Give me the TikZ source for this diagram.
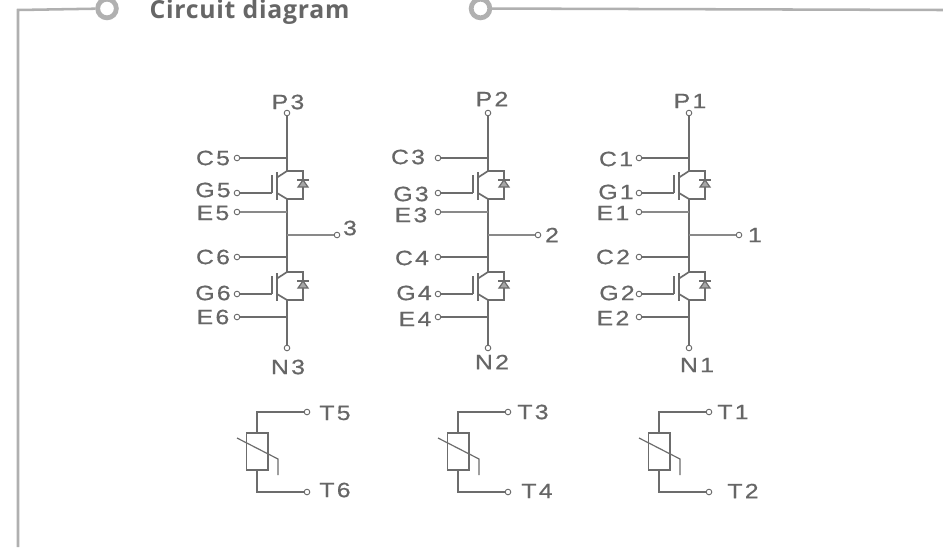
\documentclass[tikz,border=0pt]{standalone}
\usepackage{fontspec}
\setmainfont{Liberation Sans}[FakeStretch=1.2,LetterSpace=11,FakeBold=0.6]
\newfontfamily\headfont{Open Sans}[LetterSpace=3]
\definecolor{wirec}{HTML}{6C6C6C}
\definecolor{framec}{HTML}{B0B0B0}
\definecolor{textc}{HTML}{666666}
\tikzset{
  wire/.style={draw=wirec,line width=1.25pt},
  thinwire/.style={draw=wirec!80,line width=0.85pt},
  term/.style={circle,draw=wirec,fill=white,line width=0.7pt,inner sep=0pt,minimum size=4.2pt},
  lab/.style={text=textc,font=\fontsize{15.5pt}{16pt}\selectfont,inner sep=0pt},
  ring/.style={circle,draw=framec,fill=white,line width=3.6pt,inner sep=0pt,minimum size=14pt},
  frameline/.style={draw=framec,line width=1.9pt},
  rtd/.style={draw=wirec,line width=1.25pt,fill=white,minimum width=16pt,minimum height=27.5pt,inner sep=0pt}
}
% one IGBT with its antiparallel diode: #1 = x of the leg, #2 = y of the top rail
\newcommand{\igbtcell}[2]{%
  \begin{scope}[shift={(#1,#2)}]
    \draw[wire] (0,0) -- (-10,6.5);
    \draw[wire] (-10,22) -- (0,28);
    \draw[wire] (-10,1) -- (-10,29);
    \draw[wire] (-15,4) -- (-15,22);
    \draw[wire] (0,0) -- (16,0) -- (16,28) -- (0,28);
    \draw[draw=wirec,line width=0.9pt,fill=wirec!60] (16,9) -- (11,16) -- (21,16) -- cycle;
    \draw[wire] (10,9) -- (22,9);
  \end{scope}}
\begin{document}
\begin{tikzpicture}[x=0.75pt,y=-0.75pt]
\useasboundingbox (0,0) rectangle (943,547);
\clip (0,0) rectangle (943,547);
\fill[white] (0,0) rectangle (943,547);
% header frame
\coordinate (fa) at (18,547);
\coordinate (fb) at (18,10);
\coordinate (fc) at (943,10);
\node[ring] (ra) at (107,8.5) {};
\node[ring] (rb) at (480.5,8.5) {};
\draw[frameline] (fa) -- (fb) -- (ra);
\draw[frameline] (rb) -- (fc);
\node[text=textc,font=\headfont\bfseries\fontsize{18.6pt}{19pt}\selectfont,inner sep=0pt,anchor=base] (title) at (249.5,18.5) {Circuit diagram};
% half bridges
\foreach \id/\X/\XT/\XO/\YG in {a/287/237/337/193,b/488/438/538/193,c/689/639/739/193}{
  \igbtcell{\X}{171}
  \igbtcell{\X}{272}
  \coordinate (\id gu) at (\X-15,\YG);
  \node[term] (\id P) at (\X,113) {};
  \node[term] (\id N) at (\X,348) {};
  \node[term] (\id Cu) at (\XT,158) {};
  \node[term] (\id Gu) at (\XT,193) {};
  \node[term] (\id Eu) at (\XT,212) {};
  \node[term] (\id O) at (\XO,235) {};
  \node[term] (\id Cl) at (\XT,257) {};
  \node[term] (\id Gl) at (\XT,294) {};
  \node[term] (\id El) at (\XT,317) {};
  \coordinate (\id gl) at (\X-15,294);
  \coordinate (\id j1) at (\X,158);
  \coordinate (\id j2) at (\X,212);
  \coordinate (\id j3) at (\X,235);
  \coordinate (\id j4) at (\X,257);
  \coordinate (\id j5) at (\X,317);
  \draw[wire] (\id P) -- (\X,171);
  \draw[wire] (\X,199) -- (\X,272);
  \draw[wire] (\X,300) -- (\id N);
  \draw[wire] (\id Cu) -- (\id j1);
  \draw[wire] (\id Gu) -- (\id gu);
  \draw[thinwire] (\id Eu) -- (\id j2);
  \draw[thinwire] (\id O) -- (\id j3);
  \draw[wire] (\id Cl) -- (\id j4);
  \draw[wire] (\id Gl) -- (\id gl);
  \draw[wire] (\id El) -- (\id j5);
}
% thermistors
\foreach \id/\X in {a/257,b/458,c/659}{
  \node[rtd] (\id R) at (\X,451.5) {};
  \node[term] (\id Tt) at (\X+50,412) {};
  \node[term] (\id Tb) at (\X+50,492) {};
  \draw[wire] (\id R.north) |- (\id Tt);
  \draw[wire] (\id R.south) |- (\id Tb);
  \draw[draw=wirec,line width=0.9pt] (\X-20,438) -- (\X+21,459) -- (\X+21,475);
}
% labels
\foreach \n/\t/\x/\y in {
 lP3/P3/288/102, lC5/C5/213/158, lG5/G5/213/190, lE5/E5/213/213, l3/3/350/228,
 lC6/C6/213/257, lG6/G6/213/293, lE6/E6/213/317, lN3/N3/288/367,
 lP2/P2/492/99, lC3/C3/408/157, lG3/G3/411/194, lE3/E3/411/215, l2/2/552/235,
 lC4/C4/412/258, lG4/G4/414/293, lE4/E4/415/319, lN2/N2/492/362,
 lP1/P1/690/101, lC1/C1/616/159, lG1/G1/616/192, lE1/E1/613/213, l1/1/755/235,
 lC2/C2/613/257, lG2/G2/617/293, lE2/E2/613/318, lN1/N1/697/365,
 lT5/T5/335/413, lT6/T6/335/490, lT3/T3/533/412, lT4/T4/537/491, lT1/T1/733/412, lT2/T2/743/491}{
  \node[lab] (\n) at (\x,\y) {\t};
}
\end{tikzpicture}
\end{document}
